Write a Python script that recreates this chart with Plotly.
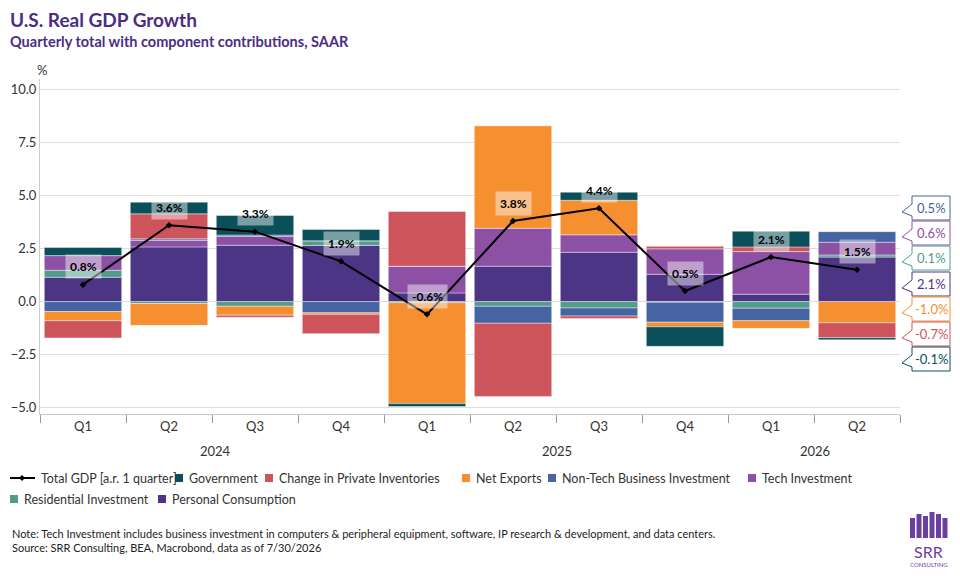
import plotly.graph_objects as go

quarters = ["Q1","Q2","Q3","Q4","Q1","Q2","Q3","Q4","Q1","Q2"]
years = ["2024","2025","2026"]
personal = [1.15, 2.58, 2.66, 2.65, 0.41, 1.67, 2.33, 1.29, 0.35, 2.1]
residential = [0.33, -0.09, -0.22, 0.22, -0.05, -0.22, -0.30, -0.03, -0.31, 0.1]
tech = [0.69, 0.31, 0.42, 0.0, 1.26, 1.79, 0.82, 1.20, 2.01, 0.6]
nontech = [-0.47, 0.07, 0.06, -0.53, 0.0, -0.80, -0.38, -0.94, -0.59, 0.5]
netexports = [-0.43, -1.03, -0.42, -0.07, -4.76, 4.84, 1.63, -0.22, -0.36, -1.0]
inventories = [-0.81, 1.18, -0.10, -0.91, 2.58, -3.45, -0.12, 0.12, 0.22, -0.7]
government = [0.38, 0.55, 0.92, 0.53, -0.14, 0.0, 0.38, -0.92, 0.74, -0.1]
total = [0.8, 3.6, 3.3, 1.9, -0.6, 3.8, 4.4, 0.5, 2.1, 1.5]

OFF = 8
L, R, T, B = 40 - OFF, 900 - OFF, 79 - OFF, 414 - OFF
W, H = 960 - OFF * 2, 576 - OFF * 2
def pxx(v): return (v - OFF - L) / (R - L)
def pxy(v): return (B - (v - OFF)) / (B - T)

series = [
    ("Personal Consumption", personal, "#4B3584", 170, 499),
    ("Residential Investment", residential, "#529C8C", 22, 499),
    ("Tech Investment", tech, "#8C50A4", 760, 478),
    ("Non-Tech Business Investment", nontech, "#4664A1", 560, 478),
    ("Net Exports", netexports, "#F58F30", 474, 478),
    ("Change in Private Inventories", inventories, "#CD545B", 277, 478),
    ("Government", government, "#0B4F5A", 187, 478),
]
x = list(range(len(quarters)))
FONT = "Lato"

def txt(xp, yp, text, size=13, color="#333", xa="center", ya="middle", **kw):
    return dict(x=pxx(xp), y=pxy(yp), xref="paper", yref="paper", xanchor=xa, yanchor=ya, text=text,
                showarrow=False, font=dict(size=size, color=color, family=FONT), **kw)

fig = go.Figure()
ann, shapes = [], []
for name, vals, col, lx, ly in series:
    fig.add_bar(x=x, y=vals, name=name, showlegend=False,
                marker=dict(color=col, line=dict(color="rgba(255,255,255,0.5)", width=0.8)), width=0.9)
    shapes.append(dict(type="rect", xref="paper", yref="paper", x0=pxx(lx - 12), x1=pxx(lx - 4),
                       y0=pxy(ly + 4), y1=pxy(ly - 4), fillcolor=col, line=dict(width=0)))
    ann.append(txt(lx, ly, name, size=12.5, xa="left"))
fig.add_scatter(x=x, y=total, name="Total GDP [a.r. 1 quarter]", mode="lines+markers", showlegend=False,
                line=dict(color="black", width=2), marker=dict(symbol="diamond", size=5, color="black"))
shapes.append(dict(type="line", xref="paper", yref="paper", x0=pxx(10), x1=pxx(35), y0=pxy(478), y1=pxy(478),
                   line=dict(color="black", width=2)))
shapes.append(dict(type="path", xref="paper", yref="paper", fillcolor="black", line=dict(width=0),
                   path=f"M {pxx(19)} {pxy(478)} L {pxx(22)} {pxy(475)} L {pxx(25)} {pxy(478)} L {pxx(22)} {pxy(481)} Z"))
ann.append(txt(39, 478, "Total GDP [a.r. 1 quarter]", size=12.5, xa="left"))

ann.append(txt(8, 6, "<b>U.S. Real GDP Growth</b>", size=19, color="#4B2E83", xa="left", ya="top"))
ann.append(txt(8, 31, "<b>Quarterly total with component contributions, SAAR</b>", size=14.5, color="#4B2E83", xa="left", ya="top"))
for i, t in enumerate(total):
    ann.append(dict(x=i, y=t, xref="x", yref="y", text=f"<b>{t:.1f}%</b>", showarrow=False, yshift=18,
                    bgcolor="rgba(255,255,255,0.45)", borderpad=4, font=dict(size=12, color="black", family=FONT)))
for lab, xp in [("2024", 215), ("2025", 557), ("2026", 815)]:
    ann.append(txt(xp, 451, lab))
ann.append(txt(42, 70, "%"))

last = 9
labels = [(nontech[last], "#4664A1", 208), (tech[last], "#8C50A4", 233), (residential[last], "#529C8C", 258),
          (personal[last], "#4B3584", 284), (netexports[last], "#F58F30", 309), (inventories[last], "#CD545B", 334),
          (government[last], "#0B4F5A", 359)]
for v, col, yp in labels:
    pts = [(912, yp - 12), (950, yp - 12), (950, yp + 12), (912, yp + 12), (912, yp + 8), (902, yp + 4), (912, yp - 4)]
    path = "M " + " L ".join(f"{pxx(a)} {pxy(b)}" for a, b in pts) + " Z"
    shapes.append(dict(type="path", xref="paper", yref="paper", path=path, fillcolor="white",
                       line=dict(color=col, width=1), layer="above"))
    ann.append(txt(931, yp, f"{v:.1f}%", color=col))

logo_h = [20, 24, 22, 26, 24, 20]
for k, h in enumerate(logo_h):
    x0 = 910 + k * 6.5
    shapes.append(dict(type="rect", xref="paper", yref="paper", x0=pxx(x0), x1=pxx(x0 + 5),
                       y0=pxy(538), y1=pxy(538 - h), fillcolor="#6B3FA0", line=dict(width=0)))
ann.append(txt(929, 551, "SRR", size=16, color="#6B3FA0"))
ann.append(txt(929, 564, "CONSULTING", size=6, color="#6B3FA0"))
ann.append(txt(10, 540, "Note: Tech Investment includes business investment in computers & peripheral equipment, software, IP research & development, and data centers.<br>Source: SRR Consulting, BEA, Macrobond, data as of 7/30/2026",
               size=11, color="#222", xa="left", align="left"))

fig.update_layout(
    width=W, height=H, barmode="relative", bargap=0.1, showlegend=False,
    margin=dict(l=L, r=W - R, t=T, b=H - B, autoexpand=False),
    plot_bgcolor="white", paper_bgcolor="white",
    font=dict(family=FONT, size=12, color="#333"),
    xaxis=dict(range=[-0.5, 9.5], tickvals=x, ticktext=quarters, showgrid=False, showline=True,
               linecolor="#ccc", ticks="", tickfont=dict(size=13), automargin=False,
               minor=dict(tickvals=[i + 0.5 for i in range(-1, 10)], ticks="outside", ticklen=8, tickcolor="#999")),
    yaxis=dict(range=[-5.3, 10.5], tickvals=[-5, -2.5, 0, 2.5, 5, 7.5, 10], tickformat=".1f", automargin=False,
               gridcolor="#ddd", zeroline=False, showline=True, linecolor="#ccc", tickfont=dict(size=13)),
    annotations=ann, shapes=shapes,
)
fig.write_html("out.html")
